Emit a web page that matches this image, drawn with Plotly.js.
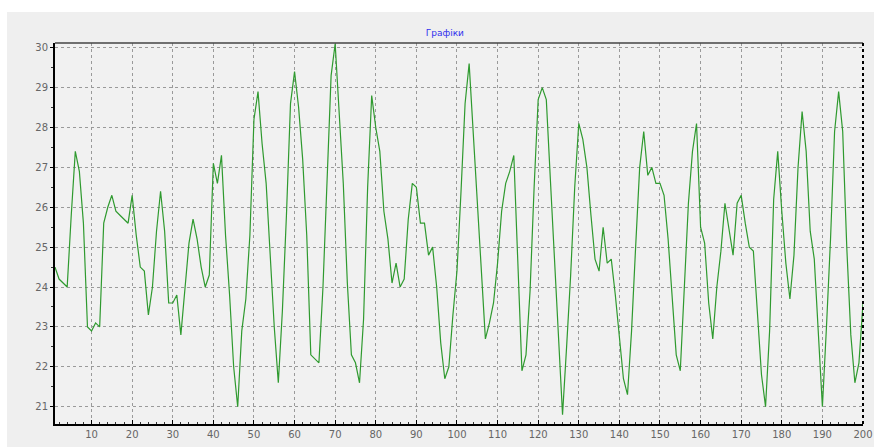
<!DOCTYPE html>
<html>
<head>
<meta charset="utf-8">
<script src="https://cdn.plot.ly/plotly-3.0.1.min.js"></script>
<style>html,body{margin:0;padding:0;background:#fff;}#chart{width:874px;height:447px;}</style>
</head>
<body>
<div id="chart"></div>
<script>
const chartTitle = "Графіки";
const values = [
  24.5, 24.2, 24.1, 24.0, 25.8, 27.4, 26.9, 25.6, 23.0, 22.9,
  23.1, 23.0, 25.6, 26.0, 26.3, 25.9, 25.8, 25.7, 25.6, 26.3,
  25.3, 24.5, 24.4, 23.3, 24.0, 25.4, 26.4, 25.4, 23.6, 23.6,
  23.8, 22.8, 24.0, 25.1, 25.7, 25.2, 24.5, 24.0, 24.3, 27.1,
  26.6, 27.3, 25.3, 23.8, 22.0, 21.0, 22.9, 23.7, 25.3, 28.2,
  28.9, 27.6, 26.6, 24.8, 23.0, 21.6, 23.4, 25.8, 28.6, 29.4,
  28.5, 27.2, 25.3, 22.3, 22.2, 22.1, 24.0, 26.9, 29.3, 30.1,
  28.3, 26.6, 24.1, 22.3, 22.1, 21.6, 23.2, 26.5, 28.8, 28.0,
  27.4, 25.9, 25.2, 24.1, 24.6, 24.0, 24.2, 25.7, 26.6, 26.5,
  25.6, 25.6, 24.8, 25.0, 24.0, 22.6, 21.7, 22.0, 23.3, 24.4,
  26.4, 28.6, 29.6, 27.8, 26.0, 24.5, 22.7, 23.1, 23.6, 24.6,
  25.9, 26.6, 26.9, 27.3, 24.8, 21.9, 22.3, 23.9, 26.5, 28.7,
  29.0, 28.7, 26.7, 24.8, 23.0, 20.8, 22.5, 24.3, 26.5, 28.1,
  27.7, 27.0, 25.8, 24.7, 24.4, 25.5, 24.6, 24.7, 23.8, 22.8,
  21.7, 21.3, 22.9, 25.0, 27.0, 27.9, 26.8, 27.0, 26.6, 26.6,
  26.3, 25.2, 23.7, 22.3, 21.9, 24.2, 26.1, 27.4, 28.1, 25.5,
  25.1, 23.6, 22.7, 24.0, 24.9, 26.1, 25.4, 24.8, 26.1, 26.3,
  25.6, 25.0, 24.9, 23.3, 21.8, 21.0, 22.9, 26.2, 27.4, 25.9,
  24.6, 23.7, 24.8, 27.0, 28.4, 27.4, 25.4, 24.7, 22.7, 21.0,
  23.0, 25.2, 27.9, 28.9, 27.9, 25.0, 22.8, 21.6, 22.1, 23.6
];
const xs = values.map((v, i) => i + 1);
const xTickVals = [10,20,30,40,50,60,70,80,90,100,110,120,130,140,150,160,170,180,190,200];
const yTickVals = [21,22,23,24,25,26,27,28,29,30];

const trace = {
  x: xs, y: values, type: 'scatter', mode: 'lines',
  line: {color: '#2f9a2f', width: 1.2},
  hoverinfo: 'skip'
};

const tickFont = {family: 'DejaVu Sans, Arial, sans-serif', size: 10, color: '#666'};

const layout = {
  width: 874, height: 447,
  margin: {l: 55, r: 11, t: 43, b: 23, pad: 0},
  paper_bgcolor: '#efefef',
  plot_bgcolor: '#f1f1f1',
  showlegend: false,
  title: {
    text: chartTitle,
    font: {family: 'DejaVu Sans, Arial, sans-serif', size: 9, color: '#2f2fee'},
    x: 0.509, xref: 'container', xanchor: 'center',
    y: 0.926, yref: 'container', yanchor: 'middle'
  },
  xaxis: {
    range: [1, 200], tickvals: xTickVals, ticktext: xTickVals.map(String),
    showgrid: true, gridcolor: '#9a9a9a', griddash: '3px,3px', gridwidth: 1,
    zeroline: false, showline: true, linecolor: '#000', linewidth: 2,
    ticks: 'inside', ticklen: 4, tickcolor: '#000', tickwidth: 1,
    minor: {dtick: 2, tick0: 0, ticks: 'inside', ticklen: 2, tickcolor: '#333', showgrid: false},
    tickfont: tickFont, fixedrange: true
  },
  yaxis: {
    range: [20.566, 30.118], tickvals: yTickVals, ticktext: yTickVals.map(String),
    showgrid: true, gridcolor: '#9a9a9a', griddash: '3px,3px', gridwidth: 1,
    zeroline: false, showline: true, linecolor: '#000', linewidth: 2,
    ticks: 'outside', ticklen: 3, tickcolor: '#000', tickwidth: 1,
    minor: {dtick: 0.5, ticks: 'outside', ticklen: 2, tickcolor: '#333', showgrid: false},
    tickfont: tickFont, fixedrange: true
  },
  shapes: [
    {type: 'rect', xref: 'paper', yref: 'paper', x0: -0.07, x1: 1.02, y0: 1.0814, y1: 1.12,
     fillcolor: '#ffffff', line: {width: 0}, layer: 'below'},
    {type: 'rect', xref: 'paper', yref: 'paper', x0: -0.07, x1: -0.0594, y0: -0.07, y1: 1.12,
     fillcolor: '#ffffff', line: {width: 0}, layer: 'below'},
    {type: 'line', xref: 'paper', yref: 'paper', x0: 0, x1: 1, y0: 1, y1: 1,
     line: {color: '#444', width: 1.5}},
    {type: 'line', xref: 'paper', yref: 'paper', x0: 1, x1: 1, y0: 0, y1: 1,
     line: {color: '#000', width: 2, dash: 'dot'}}
  ]
};

Plotly.newPlot('chart', [trace], layout, {displayModeBar: false, staticPlot: true});
</script>
</body>
</html>
